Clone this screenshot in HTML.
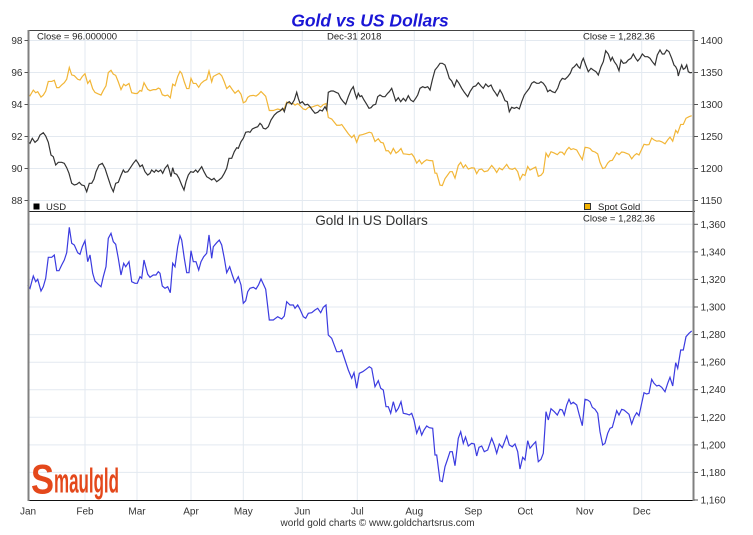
<!DOCTYPE html>
<html><head><meta charset="utf-8"><style>
html,body{margin:0;padding:0;background:#fff;}
svg{display:block;}
text{font-family:"Liberation Sans",Arial,sans-serif;}
</style></head><body>
<svg width="753" height="535" viewBox="0 0 753 535" xmlns="http://www.w3.org/2000/svg">
<rect width="753" height="535" fill="#fff"/>
<!-- title -->
<text x="370" y="26.5" text-anchor="middle" font-size="17.5" font-weight="bold" font-style="italic" fill="#1a16d6">Gold vs US Dollars</text>

<!-- grid -->
<g stroke="#e3e9f0" stroke-width="1" fill="none">
<line x1="85" y1="30" x2="85" y2="500"/><line x1="137" y1="30" x2="137" y2="500"/>
<line x1="191" y1="30" x2="191" y2="500"/><line x1="243.3" y1="30" x2="243.3" y2="500"/>
<line x1="302.3" y1="30" x2="302.3" y2="500"/><line x1="357.3" y1="30" x2="357.3" y2="500"/>
<line x1="414.3" y1="30" x2="414.3" y2="500"/><line x1="473.3" y1="30" x2="473.3" y2="500"/>
<line x1="525.3" y1="30" x2="525.3" y2="500"/><line x1="584.7" y1="30" x2="584.7" y2="500"/>
<line x1="641.7" y1="30" x2="641.7" y2="500"/>
<line x1="28" y1="40.5" x2="693" y2="40.5"/><line x1="28" y1="72.5" x2="693" y2="72.5"/>
<line x1="28" y1="104.5" x2="693" y2="104.5"/><line x1="28" y1="136.5" x2="693" y2="136.5"/>
<line x1="28" y1="168.5" x2="693" y2="168.5"/><line x1="28" y1="200.5" x2="693" y2="200.5"/>
<line x1="28" y1="224.3" x2="693" y2="224.3"/><line x1="28" y1="251.9" x2="693" y2="251.9"/>
<line x1="28" y1="279.4" x2="693" y2="279.4"/><line x1="28" y1="307" x2="693" y2="307"/>
<line x1="28" y1="334.6" x2="693" y2="334.6"/><line x1="28" y1="362.2" x2="693" y2="362.2"/>
<line x1="28" y1="389.7" x2="693" y2="389.7"/><line x1="28" y1="417.3" x2="693" y2="417.3"/>
<line x1="28" y1="444.9" x2="693" y2="444.9"/><line x1="28" y1="472.4" x2="693" y2="472.4"/>
</g>

<!-- logo -->
<text x="31" y="493.5" font-family="Liberation Serif,serif" font-weight="bold" font-size="42" fill="#e4481b" textLength="23" lengthAdjust="spacingAndGlyphs">S</text>
<text x="54" y="492.5" font-family="Liberation Serif,serif" font-weight="bold" font-size="34" fill="#e4481b" textLength="65" lengthAdjust="spacingAndGlyphs">maulgld</text>

<!-- series -->
<polyline fill="none" stroke="#f2b637" stroke-width="1.2" vector-effect="non-scaling-stroke" transform="matrix(1 0 0 0.4643 0 -38.05)" points="27.7,285 30,288.3 33.3,276 35.7,281.7 37.7,279.3 41,291 43.3,286.7 45.7,278.3 48.3,257.3 51.7,257.3 54.3,255 56.7,270.7 59,270.7 61.7,265 64.3,260 66.7,252.7 69.3,227.3 71.7,243.3 74.3,245 77.7,252.7 80,254.3 82.3,246.7 85,240.7 87.7,261.7 90,255 92.7,273.3 95,281 98.3,284.3 101,286.7 103.3,276.7 106,266.7 108.3,238.3 111,233.3 113.3,241.7 115.7,244.3 118.3,258.3 121,275 123.7,263.3 125.7,266.7 129,261.7 131.7,281.7 135,283.3 137.3,283.3 140,276.7 141.7,278.3 144,260 145.7,266.7 147.7,274.3 150,277.3 153.3,275 156,275 158.3,271.7 160,273.3 162.3,286 165,288.3 167.7,286.7 170.3,292.7 172.7,263.3 175,266.7 177.7,246.7 180,235.7 181.7,240 184.3,258.3 186.7,272.7 189,272.7 191,250.7 193.3,261.7 196,261.7 198.7,270 201,261.7 203.7,256.7 206.7,253.3 209,235 211.7,258.3 213.3,246.7 216.7,242.7 219.3,240 221.7,245 224.3,258.3 226.7,272.7 229.7,266.7 232.3,275 235,282.7 238.3,276.7 241,285 243.3,303.3 245.7,300.7 247.7,291.7 250,288.3 253.3,287.3 256,289 258.5,285 261,279 263.3,284 265.7,289.3 269.3,320 273.3,320 277.7,316.7 281.7,319 284.3,316 286.7,301.7 290,305 293.3,305 295,308.3 297.7,305 300,309.3 303.3,316.7 305.7,318.3 308.3,313.3 311.7,312.7 315,310 317.7,308.3 320.7,312.7 323.3,307.3 326,305 328.3,335 331.7,338.3 336.7,351.7 340,351.7 341.7,350 345,360 348.3,370 351.7,378.3 354,372.7 356.7,388.3 359.3,373.3 362.7,371.7 366,369.3 369.3,366.7 371.7,368.3 375,386.7 378.3,380.7 380.7,388.3 383.3,390 386,406.7 388.3,406.7 390.7,413.3 393.3,401.7 396,411.7 398.3,408.3 401,401.7 403.3,413.3 406.7,414 409.3,415 411.7,413.3 414,420 416.7,433.3 419.3,426.7 421.7,435 424,430 426.7,426 429.3,427.7 432.7,428.3 435,455 436.7,455 440,480.7 442.3,481.7 445,466.7 447.3,460 450,451.7 452.3,451.7 455,465.7 458.3,438.3 460.7,431.7 463.3,443.3 465.5,437 468.3,446 471.7,443.3 474.3,444 476.7,456 479,447.3 481.7,446 484.3,451.7 487.7,450 491.7,438.3 494.3,445 496.7,453.3 499.3,444 502.3,447.7 506.7,436 509.3,445 512.3,446.7 515,444 517.7,451.7 520,469 522.7,457.3 525,460 527.7,440.7 530,448.3 532.7,445 535.7,441.7 538.3,461.7 541,459.3 543.3,453.3 546,411.7 548.3,420 551,408.7 554.3,411.7 557.3,415 560,409.3 562.3,410 564.3,415 566.7,405 569,399.3 571,404 573.3,402.3 576.7,405 579.3,415 582.3,425.7 585,399.3 587.7,400 590,401.7 592.3,407.3 595,409.3 597.7,413.3 600,431.7 602.7,445 605,443.3 607.7,433.3 610,428.3 612.3,427.3 614.3,420 616.7,410.7 619,415 621.7,409.3 624,410 626.7,412.3 629,414.3 631.7,424 634.3,416.7 636.7,412.7 639,415.7 641.7,403.3 644,392.7 646.7,394 649,393.3 651.7,379.3 654,383.3 656.7,386 659,385.3 661.7,387.3 665,391.7 667.7,383.3 670,377.3 672.7,386 675.7,362.7 677.7,368.3 680.7,350 683.3,350 686,336.7 689,333.3 691.7,331"/>

<polyline fill="none" stroke="#333" stroke-width="1.2" points="27.7,141 30,143.3 32.3,138.3 35,142.3 37.7,140 40,135 43.3,132.7 45.7,136 48.3,142.3 51,155 53.3,156.7 55.7,165 58.3,162.3 61.7,162.3 64.3,163.3 66.7,167.7 69,173.3 71.7,183.3 74.3,185 76.7,184.3 79.3,182.3 81.7,185 84.3,185.7 86.7,191.7 89.3,183.3 91.7,183.3 94,179 96,171.7 99,165 102.3,163.3 105,168.3 107.7,176.7 111,186.7 113.3,191.7 115.7,183.3 118.3,182.3 120.7,176 123.3,170 125,172.3 127.7,171.7 130,168.3 133.3,163.3 136,160 138.3,163.3 140,166.7 142.3,165 145,171.7 147.7,175 150,173.3 151.7,170 154.3,172.3 156,170 158.3,171.7 160.7,170 162.7,173.3 165,168.3 167.7,165 169.3,170 171,176.7 172.7,167.7 174.3,173.3 176.7,174.3 179,178.3 181.7,185 184,190 186,181.7 188.3,175 190.7,171.7 193.3,172.3 195.7,170 197.7,172.3 200,169 201.7,166.7 204,171.7 206.7,176.7 209.3,178.3 211.7,180 214,178.3 216.7,181.7 219,180 221.7,177.7 224.3,173.3 226.7,168.3 229,158.3 231.7,158.3 234.3,151.7 236.7,147.7 238.3,148.3 241,141.7 243.3,138.3 245.7,132.3 248.3,131.7 250,132.3 252.3,129 255,127.7 257.7,126.7 260,123.3 261.7,125 263.3,128.3 265.7,129 268.3,126.7 271,120 274.3,115 277.3,112.3 280,111 282.7,108.3 284.3,111.7 286.7,103.3 289.3,101.7 291.7,104.3 294.3,100 296.7,92.3 298.3,98.3 300,103.3 302.3,101.7 305,105 307.7,104.3 310,106.7 312.3,110 315,113.3 317.7,112.3 320,110 322.3,111 325,106.7 326.7,110 328.3,92.3 331,91 333.3,91 336,92.3 338.3,93.3 340.7,98.3 343.3,101.7 345.7,104.3 348.3,96.7 351,90 353.3,86.7 355,93.3 356.7,98.3 358.3,93.3 360,96.7 361.7,95.7 364,100 366.7,104.3 369,108.3 371,107.7 373.3,105 375.7,104.3 377.7,96.7 380,95 382.7,96.7 385,96.7 387.7,93.3 389.3,91.7 391.7,88.3 393.3,93.3 395.7,101 398.3,97.7 400.7,101.7 403.3,98.3 405.7,101 408.3,95.7 410.7,100 413.3,101.7 415.7,98.3 417.7,95 420,88.3 422.7,86.7 425,87.7 427.7,86.7 430,90 432.3,80 435,70 437.7,66.7 440,63.3 442.3,63.3 445,65 447.3,71.7 449.3,78.3 451.7,81 454.3,86.7 456.7,80 459,83.3 461.7,88.3 464.3,92.3 467.7,96.7 470,91.7 473.3,86.7 475.7,86 478.3,82.7 481,86 483.3,88.3 485.7,84 488.3,86.7 491,85 493.3,90 495.7,93.3 497.3,96 500,90 502.3,94 505,100.7 507.3,101.7 509.3,111.7 511.7,107.3 514.3,108.3 516.7,107.3 519.3,109 521.7,101.7 524.3,95 526.7,91.7 529.3,88.3 531.7,83.3 534,81.7 536.7,83.3 539,83.3 541,81.7 543.3,83.3 545.7,86.7 547.7,91.7 550,90 552.3,91.7 555,92.7 557.7,88.3 560,81.7 562.3,78.3 565,79.3 567.7,76.7 570.3,73.3 572.3,68.3 574.3,66.7 576.7,64 578.3,66.7 580,68.3 581.7,61.7 583.3,58.3 585.7,65 588.3,71.7 591,68.3 593.3,70 596,71.7 598.3,75 601,66.7 603.3,61.7 605.7,50.7 608.3,54 610.7,60.7 612.3,57.3 614.3,61.7 616.7,65 619,70.7 621,60 623.3,63.3 626,62.7 628.3,60 631,58.3 633.3,54 635.7,58.3 637.7,61 640,58.3 642.3,54 645,56.7 647.7,56.7 650,58.3 652.3,61.7 655,65 657.3,55 660,50 662.3,54 664.3,54 666.7,50 669,51.7 671.7,58.3 674,65 675.7,66.7 677.3,70 678.3,76 680,70 681.7,65 683.3,69.3 685,68.3 686.7,65 688.3,71.7 690,72.7 692,72.5"/>

<polyline fill="none" stroke="#3b3be0" stroke-width="1.2" points="27.7,285 30,288.3 33.3,276 35.7,281.7 37.7,279.3 41,291 43.3,286.7 45.7,278.3 48.3,257.3 51.7,257.3 54.3,255 56.7,270.7 59,270.7 61.7,265 64.3,260 66.7,252.7 69.3,227.3 71.7,243.3 74.3,245 77.7,252.7 80,254.3 82.3,246.7 85,240.7 87.7,261.7 90,255 92.7,273.3 95,281 98.3,284.3 101,286.7 103.3,276.7 106,266.7 108.3,238.3 111,233.3 113.3,241.7 115.7,244.3 118.3,258.3 121,275 123.7,263.3 125.7,266.7 129,261.7 131.7,281.7 135,283.3 137.3,283.3 140,276.7 141.7,278.3 144,260 145.7,266.7 147.7,274.3 150,277.3 153.3,275 156,275 158.3,271.7 160,273.3 162.3,286 165,288.3 167.7,286.7 170.3,292.7 172.7,263.3 175,266.7 177.7,246.7 180,235.7 181.7,240 184.3,258.3 186.7,272.7 189,272.7 191,250.7 193.3,261.7 196,261.7 198.7,270 201,261.7 203.7,256.7 206.7,253.3 209,235 211.7,258.3 213.3,246.7 216.7,242.7 219.3,240 221.7,245 224.3,258.3 226.7,272.7 229.7,266.7 232.3,275 235,282.7 238.3,276.7 241,285 243.3,303.3 245.7,300.7 247.7,291.7 250,288.3 253.3,287.3 256,289 258.5,285 261,279 263.3,284 265.7,289.3 269.3,320 273.3,320 277.7,316.7 281.7,319 284.3,316 286.7,301.7 290,305 293.3,305 295,308.3 297.7,305 300,309.3 303.3,316.7 305.7,318.3 308.3,313.3 311.7,312.7 315,310 317.7,308.3 320.7,312.7 323.3,307.3 326,305 328.3,335 331.7,338.3 336.7,351.7 340,351.7 341.7,350 345,360 348.3,370 351.7,378.3 354,372.7 356.7,388.3 359.3,373.3 362.7,371.7 366,369.3 369.3,366.7 371.7,368.3 375,386.7 378.3,380.7 380.7,388.3 383.3,390 386,406.7 388.3,406.7 390.7,413.3 393.3,401.7 396,411.7 398.3,408.3 401,401.7 403.3,413.3 406.7,414 409.3,415 411.7,413.3 414,420 416.7,433.3 419.3,426.7 421.7,435 424,430 426.7,426 429.3,427.7 432.7,428.3 435,455 436.7,455 440,480.7 442.3,481.7 445,466.7 447.3,460 450,451.7 452.3,451.7 455,465.7 458.3,438.3 460.7,431.7 463.3,443.3 465.5,437 468.3,446 471.7,443.3 474.3,444 476.7,456 479,447.3 481.7,446 484.3,451.7 487.7,450 491.7,438.3 494.3,445 496.7,453.3 499.3,444 502.3,447.7 506.7,436 509.3,445 512.3,446.7 515,444 517.7,451.7 520,469 522.7,457.3 525,460 527.7,440.7 530,448.3 532.7,445 535.7,441.7 538.3,461.7 541,459.3 543.3,453.3 546,411.7 548.3,420 551,408.7 554.3,411.7 557.3,415 560,409.3 562.3,410 564.3,415 566.7,405 569,399.3 571,404 573.3,402.3 576.7,405 579.3,415 582.3,425.7 585,399.3 587.7,400 590,401.7 592.3,407.3 595,409.3 597.7,413.3 600,431.7 602.7,445 605,443.3 607.7,433.3 610,428.3 612.3,427.3 614.3,420 616.7,410.7 619,415 621.7,409.3 624,410 626.7,412.3 629,414.3 631.7,424 634.3,416.7 636.7,412.7 639,415.7 641.7,403.3 644,392.7 646.7,394 649,393.3 651.7,379.3 654,383.3 656.7,386 659,385.3 661.7,387.3 665,391.7 667.7,383.3 670,377.3 672.7,386 675.7,362.7 677.7,368.3 680.7,350 683.3,350 686,336.7 689,333.3 691.7,331"/>

<!-- frame / axes -->
<line x1="28" y1="30.5" x2="694" y2="30.5" stroke="#444" stroke-width="1"/>
<line x1="28" y1="211.5" x2="695" y2="211.5" stroke="#222" stroke-width="1"/>
<line x1="28" y1="500.5" x2="694" y2="500.5" stroke="#111" stroke-width="1"/>
<line x1="28.5" y1="30" x2="28.5" y2="501" stroke="#808080" stroke-width="2"/>
<line x1="693.5" y1="30" x2="693.5" y2="501" stroke="#808080" stroke-width="2"/>

<!-- left ticks -->
<g stroke="#555" stroke-width="1">
<line x1="24.5" y1="40.5" x2="28" y2="40.5"/><line x1="24.5" y1="72.5" x2="28" y2="72.5"/>
<line x1="24.5" y1="104.5" x2="28" y2="104.5"/><line x1="24.5" y1="136.5" x2="28" y2="136.5"/>
<line x1="24.5" y1="168.5" x2="28" y2="168.5"/><line x1="24.5" y1="200.5" x2="28" y2="200.5"/>
<line x1="694" y1="40.5" x2="698" y2="40.5"/><line x1="694" y1="72.5" x2="698" y2="72.5"/>
<line x1="694" y1="104.5" x2="698" y2="104.5"/><line x1="694" y1="136.5" x2="698" y2="136.5"/>
<line x1="694" y1="168.5" x2="698" y2="168.5"/><line x1="694" y1="200.5" x2="698" y2="200.5"/>
<line x1="694" y1="224.3" x2="698" y2="224.3"/><line x1="694" y1="251.9" x2="698" y2="251.9"/>
<line x1="694" y1="279.4" x2="698" y2="279.4"/><line x1="694" y1="307" x2="698" y2="307"/>
<line x1="694" y1="334.6" x2="698" y2="334.6"/><line x1="694" y1="362.2" x2="698" y2="362.2"/>
<line x1="694" y1="389.7" x2="698" y2="389.7"/><line x1="694" y1="417.3" x2="698" y2="417.3"/>
<line x1="694" y1="444.9" x2="698" y2="444.9"/><line x1="694" y1="472.4" x2="698" y2="472.4"/>
<line x1="694" y1="500" x2="698" y2="500"/>
</g>

<g font-size="10" fill="#333">
<g text-anchor="end">
<text x="22.5" y="44">98</text><text x="22.5" y="76">96</text><text x="22.5" y="108">94</text>
<text x="22.5" y="140">92</text><text x="22.5" y="172">90</text><text x="22.5" y="204">88</text>
</g>
<text x="700.5" y="44">1400</text><text x="700.5" y="76">1350</text><text x="700.5" y="108">1300</text>
<text x="700.5" y="140">1250</text><text x="700.5" y="172">1200</text><text x="700.5" y="204">1150</text>
<text x="700.5" y="227.8">1,360</text><text x="700.5" y="255.4">1,340</text><text x="700.5" y="282.9">1,320</text>
<text x="700.5" y="310.5">1,300</text><text x="700.5" y="338.1">1,280</text><text x="700.5" y="365.7">1,260</text>
<text x="700.5" y="393.2">1,240</text><text x="700.5" y="420.8">1,220</text><text x="700.5" y="448.4">1,200</text>
<text x="700.5" y="475.9">1,180</text><text x="700.5" y="503.5">1,160</text>
<g text-anchor="middle">
<text x="28" y="514.5">Jan</text><text x="85" y="514.5">Feb</text><text x="137" y="514.5">Mar</text>
<text x="191" y="514.5">Apr</text><text x="243.3" y="514.5">May</text><text x="302.3" y="514.5">Jun</text>
<text x="357.3" y="514.5">Jul</text><text x="414.3" y="514.5">Aug</text><text x="473.3" y="514.5">Sep</text>
<text x="525.3" y="514.5">Oct</text><text x="584.7" y="514.5">Nov</text><text x="641.7" y="514.5">Dec</text>
</g>
<text x="377.6" y="525.8" text-anchor="middle">world gold charts © www.goldchartsrus.com</text>
</g>

<g font-size="9.5" fill="#222">
<text x="37" y="39.5">Close = 96.000000</text>
<text x="327" y="39.5">Dec-31  2018</text>
<text x="583" y="39.5">Close = 1,282.36</text>
<text x="46" y="210">USD</text>
<text x="598" y="210">Spot Gold</text>
<text x="583" y="221.6">Close = 1,282.36</text>
</g>
<rect x="33.5" y="203.5" width="6" height="6" fill="#000"/>
<rect x="584.5" y="203.5" width="6" height="6" fill="#f2b200" stroke="#333" stroke-width="1"/>
<text x="371.5" y="224.8" text-anchor="middle" font-size="13.6" fill="#333">Gold In US Dollars</text>
</svg>
</body></html>
